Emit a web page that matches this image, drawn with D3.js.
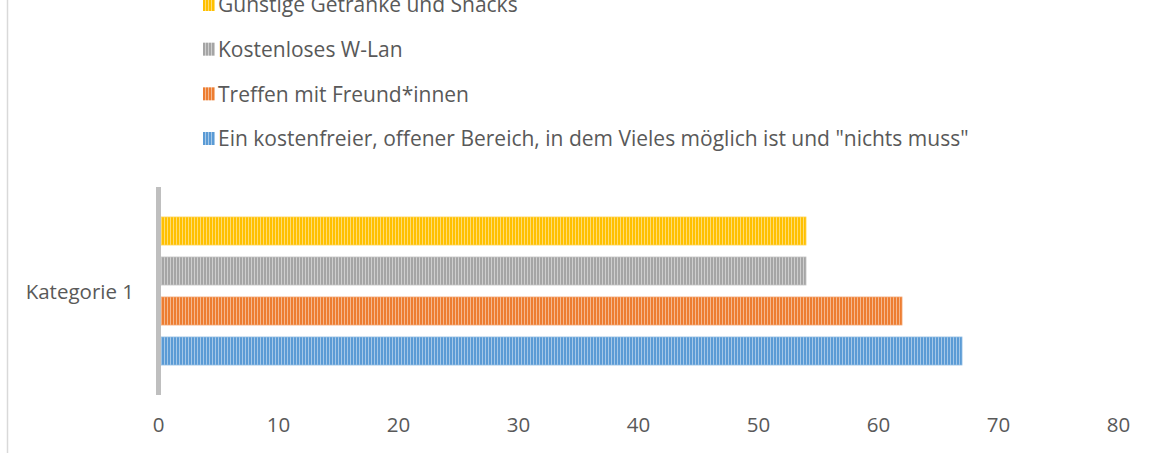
<!DOCTYPE html>
<html>
<head>
  <meta charset="utf-8">
  <title>Kategorie 1</title>
  <style>
    body { margin: 0; background: #fff; }
    svg text { font-family: "Open Sans", "Noto Sans", sans-serif; fill: #595959; }
  </style>
</head>
<body>
  <svg id="chart" width="1151" height="453"></svg>
  <script src="https://d3js.org/d3.v7.min.js"></script>
  <script>
    // data
    const categories = ["Kategorie 1"];
    const seriesNames = [
      'Ein kostenfreier, offener Bereich, in dem Vieles möglich ist und "nichts muss"',
      "Treffen mit Freund*innen",
      "Kostenloses W-Lan",
      "Günstige Getränke und Snacks"
    ];
    const seriesValues = [67, 62, 54, 54];
    const seriesColors = ["#5B9BD5", "#ED7D31", "#A5A5A5", "#FFC000"];
    const xTicks = [0, 10, 20, 30, 40, 50, 60, 70, 80];

    const FS = 20.5;
    const svg = d3.select("#chart");
    const defs = svg.append("defs");

    // narrow vertical stripe fill, like the office pattern
    seriesColors.forEach((c, i) => {
      const p = defs.append("pattern")
        .attr("id", "stripe" + i)
        .attr("patternUnits", "userSpaceOnUse")
        .attr("width", 3).attr("height", 10);
      p.append("rect").attr("width", 3).attr("height", 10).attr("fill", c);
      p.append("rect").attr("x", 2).attr("width", 1).attr("height", 10)
        .attr("fill", d3.interpolateRgb(c, "#fff")(0.45));
    });

    // thin frame line on the left
    svg.append("line")
      .attr("x1", 7.5).attr("x2", 7.5).attr("y1", 0).attr("y2", 453)
      .attr("stroke", "#d9d9d9").attr("stroke-width", 1.5);

    const x = d3.scaleLinear().domain([0, 80]).range([158, 1118]);
    const y = d3.scaleBand().domain(categories).range([187, 395]);

    // series inside the category, first series at the bottom
    const inner = d3.scaleBand()
      .domain(d3.range(seriesNames.length).reverse())
      .range([0, y.bandwidth()])
      .paddingInner(0.3)
      .paddingOuter(0.75);

    categories.forEach(cat => {
      const g = svg.append("g").attr("transform", `translate(0,${y(cat)})`);
      g.selectAll("rect")
        .data(seriesValues)
        .join("rect")
        .attr("x", x(0) + 3)
        .attr("y", (d, i) => inner(i))
        .attr("width", d => x(d) - x(0) - 3)
        .attr("height", inner.bandwidth())
        .attr("fill", (d, i) => `url(#stripe${i})`)
        .attr("stroke", (d, i) => d3.interpolateRgb(seriesColors[i], "#fff")(0.3))
        .attr("stroke-width", 0.8);

      svg.append("text")
        .attr("x", 134).attr("y", y(cat) + y.bandwidth() / 2 + 1)
        .attr("text-anchor", "end")
        .attr("dy", "0.35em")
        .attr("font-size", FS)
        .text(cat);
    });

    // vertical category axis line
    svg.append("line")
      .attr("x1", x(0) + 0.5).attr("x2", x(0) + 0.5)
      .attr("y1", 187).attr("y2", 395)
      .attr("stroke", "#bfbfbf").attr("stroke-width", 5);

    // value axis labels (no line)
    const xAxis = svg.append("g")
      .attr("transform", "translate(0,425)")
      .call(d3.axisBottom(x).tickValues(xTicks).tickSize(0).tickPadding(0));
    xAxis.select(".domain").remove();
    xAxis.selectAll("text")
      .attr("font-size", FS)
      .attr("dy", "0.35em")
      .style("font-family", '"Open Sans", "Noto Sans", sans-serif')
      .attr("fill", "#595959");

    // legend, stacked top to bottom in reverse series order
    const legendY = d3.scalePoint()
      .domain(d3.range(seriesNames.length).reverse())
      .range([4, 138]);
    const leg = svg.append("g");
    seriesNames.forEach((name, i) => {
      const row = leg.append("g").attr("transform", `translate(203,${legendY(i)})`);
      row.append("rect")
        .attr("x", 0).attr("y", -6)
        .attr("width", 12).attr("height", 13)
        .attr("fill", `url(#stripe${i})`);
      row.append("text")
        .attr("x", 15).attr("y", 1)
        .attr("dy", "0.35em")
        .attr("font-size", 21)
        .text(name);
    });
  </script>
</body>
</html>
